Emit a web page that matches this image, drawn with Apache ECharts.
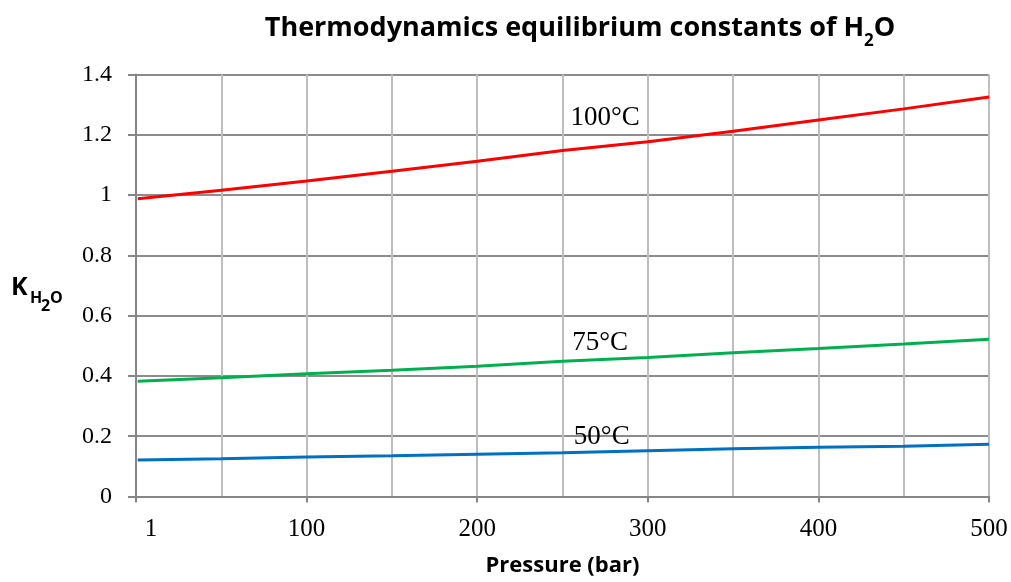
<!DOCTYPE html>
<html>
<head>
<meta charset="utf-8">
<style>
  html, body { margin: 0; padding: 0; background: #fff; }
  #chart { width: 1011px; height: 582px; }
</style>
<script src="https://cdn.jsdelivr.net/npm/echarts@6/dist/echarts.min.js"></script>
</head>
<body>
<div id="chart"></div>
<script>
// Pressure (bar) sample points
const pressure = [1, 50, 100, 150, 200, 250, 300, 350, 400, 450, 500];

// Equilibrium constant K(H2O) at each temperature
const k100 = [0.988, 1.016, 1.047, 1.079, 1.112, 1.148, 1.177, 1.212, 1.249, 1.286, 1.325];
const k75  = [0.382, 0.394, 0.407, 0.419, 0.432, 0.449, 0.461, 0.477, 0.491, 0.506, 0.522];
const k50  = [0.121, 0.125, 0.131, 0.135, 0.140, 0.145, 0.152, 0.158, 0.163, 0.167, 0.173];

const seriesNames = ['100°C', '75°C', '50°C'];
const seriesColors = ['#FF0000', '#00B050', '#0070C0'];
// where each temperature tag sits, in data units [pressure, K]
const tagPos = [[275, 1.255], [272, 0.509], [273, 0.197]];

const xTicks = [0, 100, 200, 300, 400, 500];
const yTicks = [0, 0.2, 0.4, 0.6, 0.8, 1, 1.2, 1.4];

const serif = '"Liberation Serif", "Times New Roman", serif';
const sans = '"Open Sans", "Noto Sans", sans-serif';

const pairs = arr => pressure.map((p, i) => [p, arr[i]]);
const allSeries = [k100, k75, k50].map((vals, i) => ({
  name: seriesNames[i],
  type: 'line',
  data: pairs(vals),
  showSymbol: false,
  smooth: false,
  lineStyle: { color: seriesColors[i], width: 3 },
  itemStyle: { color: seriesColors[i] },
  silent: true,
  markPoint: {
    symbol: 'circle',
    symbolSize: 0,
    silent: true,
    data: [{ coord: tagPos[i], value: seriesNames[i] }],
    label: {
      show: true,
      position: 'inside',
      formatter: seriesNames[i],
      color: '#000',
      fontFamily: serif,
      fontSize: 27
    }
  }
}));

// Y-axis title K with subscript H2O (the 2 sits one level lower)
const yNameFont = size => 'bold ' + size + 'px ' + sans;
const yName = [
  { text: 'K', x: 11, y: 288, size: 25 },
  { text: 'H', x: 30, y: 298, size: 16 },
  { text: '2', x: 41, y: 306, size: 16 },
  { text: 'O', x: 50, y: 298, size: 16 }
];

const chart = echarts.init(document.getElementById('chart'), null, { renderer: 'canvas' });
chart.setOption({
  animation: false,
  backgroundColor: '#fff',
  title: {
    text: '{a|Thermodynamics equilibrium constants of H}{b|2}{a|O}',
    left: 580,
    textAlign: 'center',
    top: 6,
    padding: 0,
    textStyle: {
      rich: {
        a: { fontFamily: sans, fontWeight: 'bold', fontSize: 27, color: '#000', lineHeight: 44, verticalAlign: 'middle' },
        b: { fontFamily: sans, fontWeight: 'bold', fontSize: 17, color: '#000', lineHeight: 20, verticalAlign: 'bottom' }
      }
    }
  },
  graphic: yName.map(t => ({
    type: 'text',
    silent: true,
    style: {
      text: t.text,
      x: t.x,
      y: t.y,
      font: yNameFont(t.size),
      fill: '#000',
      textAlign: 'left',
      textVerticalAlign: 'middle',
      verticalAlign: 'middle'
    }
  })),
  grid: { left: 136, right: 22, top: 74.5, bottom: 85.5, containLabel: false, outerBoundsMode: 'none' },
  xAxis: {
    type: 'value',
    min: 0,
    max: 500,
    interval: 100,
    name: 'Pressure (bar)',
    nameLocation: 'middle',
    nameGap: 58,
    nameTextStyle: { fontFamily: sans, fontWeight: 'bold', fontSize: 22, color: '#000' },
    axisLine: { show: true, lineStyle: { color: '#868686', width: 2 } },
    axisTick: { show: true, length: 6, lineStyle: { color: '#868686', width: 2 } },
    minorTick: { show: false, splitNumber: 2 },
    splitLine: { show: true, lineStyle: { color: '#BEBEBE', width: 2 } },
    minorSplitLine: { show: true, lineStyle: { color: '#BEBEBE', width: 2 } },
    axisLabel: {
      margin: 20,
      fontFamily: serif,
      fontSize: 25,
      color: '#000',
      formatter: v => (v === 0 ? '{p|1}' : (xTicks.indexOf(v) >= 0 ? String(v) : '')),
      rich: { p: { fontFamily: serif, fontSize: 25, color: '#000', padding: [0, 0, 0, 30] } }
    }
  },
  yAxis: {
    type: 'value',
    min: 0,
    max: 1.4,
    interval: 0.2,
    axisLine: { show: true, lineStyle: { color: '#868686', width: 2 } },
    axisTick: { show: true, length: 8, lineStyle: { color: '#868686', width: 2 } },
    splitLine: { show: true, lineStyle: { color: '#8C8C8C', width: 2 } },
    axisLabel: {
      margin: 24,
      fontFamily: serif,
      fontSize: 24,
      color: '#000',
      formatter: v => {
        const t = yTicks.find(y => Math.abs(y - v) < 1e-9);
        return t === undefined ? '' : String(Math.round(t * 10) / 10);
      }
    }
  },
  series: allSeries
});
</script>
</body>
</html>
